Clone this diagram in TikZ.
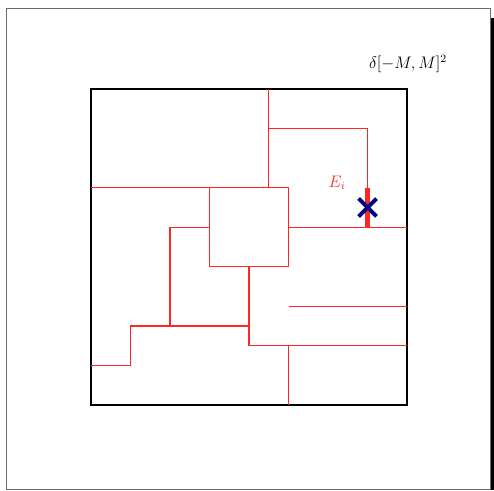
\documentclass[tikz,border=0pt]{standalone}
\usepackage{amsmath,amssymb}
\usepackage{tikz}
\usepackage{xcolor}
\usetikzlibrary{positioning}
\definecolor{framegray}{HTML}{6A6A6A}
\definecolor{wallred}  {HTML}{FF2626}
\definecolor{crossblue}{HTML}{000080}
\tikzset{
  boxline/.style  ={draw=black, line width=1.4pt},
  wall/.style     ={draw=wallred, line width=0.85pt},
  thickwall/.style={draw=wallred, line width=3.6pt},
  crossline/.style={draw=crossblue, line width=2.8pt},
  framebox/.style ={draw=framegray, line width=0.5pt},
}

\begin{document}
\begin{tikzpicture}[x=0.5cm,y=0.5cm]
    \useasboundingbox (-4.608,-4.304) rectangle (20.405,20.506);
    % outer frame with its shadow
    \fill[black] (20.25,-4.304) rectangle (20.405,19.59);
    \draw[framebox] (-4.28,-4.28) rectangle (20.23,20.10);

    \draw[boxline] (0,0) rectangle (16,16);
    \node[font=\large] (dom) at (16.05,17.27) {$\delta[-M,M]^2$};

    % walls
    \draw[wall] (9,16) -- (9,11);
    \draw[wall] (9,14) -- (14,14) -- (14,10);
    \draw[wall] (0,11) -- (10,11) -- (10,7) -- (6,7) -- (6,11);
    \draw[wall] (10,9) -- (16,9);
    \draw[wall] (6,9) -- (4,9) -- (4,4);
    \draw[wall] (8,7) -- (8,3) -- (16,3);
    \draw[wall] (0,2) -- (2,2) -- (2,4) -- (8,4);
    \draw[wall] (10,5) -- (16,5);
    \draw[wall] (10,3) -- (10,0);

    % the edge E_i and its mark
    \coordinate (ea) at (14,9);
    \coordinate (eb) at (14,11);
    \coordinate (ex) at (14,10);
    \draw[thickwall] (ea) -- (eb);
    \draw[crossline] ([shift={(-0.45,-0.45)}]ex) -- ([shift={(0.45,0.45)}]ex);
    \draw[crossline] ([shift={(-0.45,0.45)}]ex) -- ([shift={(0.45,-0.45)}]ex);
    \node[text=wallred, font=\large] (ei) at (12.46,11.24) {$E_i$};
\end{tikzpicture}
\end{document}
